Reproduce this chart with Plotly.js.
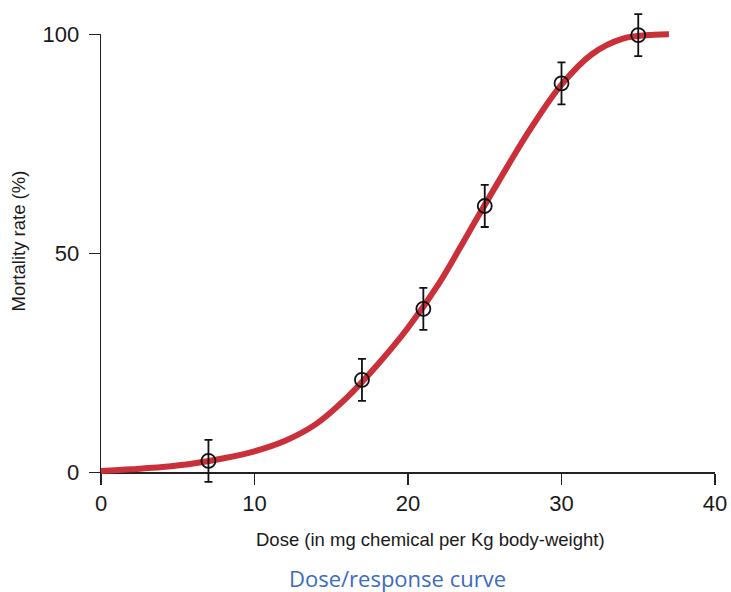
<!DOCTYPE html>
<html>
<head>
<meta charset="utf-8">
<script src="https://cdn.plot.ly/plotly-3.0.1.min.js"></script>
<style>html,body{margin:0;padding:0;background:#fff;}#chart{width:731px;height:592px;}</style>
</head>
<body>
<div id="chart"></div>
<script>
// Fitted dose/response curve
var curveDose = [0, 2, 4, 6, 8, 10, 12, 14, 16, 18, 20, 22, 24, 26, 28, 30, 32, 34, 36, 37];
var curveRate = [0.3, 0.7, 1.2, 2.0, 3.2, 4.8, 7.2, 11, 17, 24.5, 33, 43, 55, 67, 78.5, 88.5, 95.5, 99, 99.9, 100];

// Observed points with error bars
var obsDose = [7, 17, 21, 25, 30, 35];
var obsRate = [2.6, 21.1, 37.3, 60.8, 88.8, 99.8];
var obsErr  = [4.8, 4.8, 4.8, 4.8, 4.8, 4.8];

// Tick values
var xTicks = [0, 10, 20, 30, 40];
var yTicks = [0, 50, 100];

var W = 731, H = 592;
var xRange = [0, 40], yRange = [0, 100];
var xDom = [101 / W, 715 / W];
var yDom = [(H - 472.3) / H, (H - 34.3) / H];

function fullRange(r, d) {
  var k = (r[1] - r[0]) / (d[1] - d[0]);
  return [r[0] - d[0] * k, r[1] + (1 - d[1]) * k];
}

var tickFont = {family: '"Liberation Sans", Arial, sans-serif', size: 22, color: '#1a1a1a'};

var traces = [
  {x: [], y: [], xaxis: 'x', yaxis: 'y', mode: 'markers', showlegend: false, hoverinfo: 'skip'},
  {x: curveDose, y: curveRate, xaxis: 'x2', yaxis: 'y2', mode: 'lines',
   line: {color: '#c9303a', width: 6, shape: 'spline', smoothing: 1}, showlegend: false},
  {x: obsDose, y: obsRate, xaxis: 'x2', yaxis: 'y2', mode: 'markers',
   marker: {symbol: 'circle-open', size: 14, color: '#111', line: {width: 1.8}},
   error_y: {type: 'data', array: obsErr, visible: true, color: '#111', thickness: 1.8, width: 4},
   showlegend: false, cliponaxis: false}
];

var layout = {
  width: W, height: H,
  margin: {l: 0, r: 0, t: 0, b: 0},
  paper_bgcolor: '#ffffff', plot_bgcolor: 'rgba(0,0,0,0)',
  showlegend: false,
  xaxis: {domain: xDom, range: xRange, anchor: 'y', showline: true, linecolor: '#222', linewidth: 1.3,
          showgrid: false, zeroline: false, ticks: 'outside', ticklen: 11, tickwidth: 1.3, tickcolor: '#222',
          tickvals: xTicks, ticktext: xTicks.map(String), tickfont: tickFont, ticklabelstandoff: 0},
  yaxis: {domain: yDom, range: yRange, anchor: 'x', showline: true, linecolor: '#222', linewidth: 1.3,
          showgrid: false, zeroline: false, ticks: 'outside', ticklen: 11, tickwidth: 1.3, tickcolor: '#222',
          tickvals: yTicks, ticktext: yTicks.map(String), tickfont: tickFont, ticklabelstandoff: 5},
  xaxis2: {domain: [0, 1], range: fullRange(xRange, xDom), anchor: 'y2', visible: false, fixedrange: true},
  yaxis2: {domain: [0, 1], range: fullRange(yRange, yDom), anchor: 'x2', visible: false, fixedrange: true},
  title: {text: 'Dose/response curve', x: 397.5 / W, xanchor: 'center', xref: 'paper',
          y: (H - 579) / H, yanchor: 'middle', yref: 'paper',
          font: {family: '"Open Sans", "Noto Sans", sans-serif', size: 22, color: '#3a6cc0'}},
  annotations: [
    {text: 'Dose (in mg chemical per Kg body-weight)', xref: 'paper', yref: 'paper',
     x: 430.5 / W, y: (H - 539) / H, xanchor: 'center', yanchor: 'middle', showarrow: false,
     font: {family: '"Liberation Sans", Arial, sans-serif', size: 18.5, color: '#1a1a1a'}},
    {text: 'Mortality rate (%)', xref: 'paper', yref: 'paper', textangle: -90,
     x: 18 / W, y: (H - 241.5) / H, xanchor: 'center', yanchor: 'middle', showarrow: false,
     font: {family: '"Liberation Sans", Arial, sans-serif', size: 18.5, color: '#1a1a1a'}}
  ]
};

Plotly.newPlot('chart', traces, layout, {staticPlot: true, displayModeBar: false});
</script>
</body>
</html>
